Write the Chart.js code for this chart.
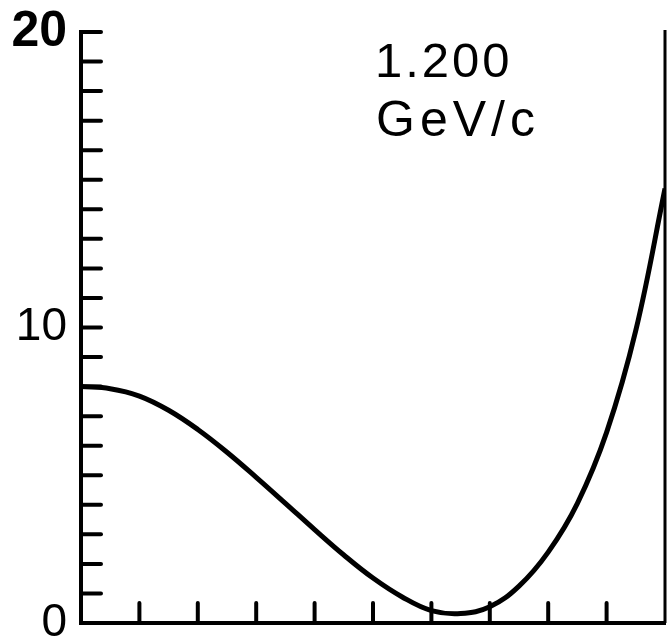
<!DOCTYPE html>
<html><head><meta charset="utf-8">
<script src="https://cdn.jsdelivr.net/npm/chart.js@4.4.1/dist/chart.umd.min.js"></script>
<style>html,body{margin:0;padding:0;background:#fff}#wrap{width:667px;height:636px}</style>
</head><body><div id="wrap"><canvas id="c" width="667" height="636"></canvas></div>
<script>
// Data
const xValues = [0, 0.5, 1, 1.5, 2, 2.5, 3, 3.5, 4, 4.5, 5, 5.5, 6, 6.5, 7, 7.5, 8, 8.5, 9, 9.5, 10];
const yValues = [8.0, 7.93, 7.68, 7.2, 6.55, 5.78, 4.93, 4.05, 3.16, 2.3, 1.52, 0.88, 0.42, 0.32, 0.55, 1.25, 2.4, 4.05, 6.45, 9.9, 14.7];
const yLabelValues = [0, 10, 20];
const annotationLines = ['1.200', 'GeV/c'];

const FONT = '"Liberation Sans", Arial, sans-serif';

const decor = {
  id: 'decor',
  afterDraw(chart) {
    const ctx = chart.ctx;
    const {left, right, top, bottom} = chart.chartArea;
    const xs = chart.scales.x, ys = chart.scales.y;
    ctx.save();
    ctx.strokeStyle = '#000';
    ctx.lineWidth = 4;
    ctx.lineCap = 'round';
    ys.ticks.forEach(t => {
      if (t.value === 0) return;
      const y = ys.getPixelForValue(t.value);
      ctx.beginPath(); ctx.moveTo(left, y); ctx.lineTo(left + 20, y); ctx.stroke();
    });
    xs.ticks.forEach(t => {
      if (t.value === xs.min || t.value === xs.max) return;
      const x = xs.getPixelForValue(t.value);
      ctx.beginPath(); ctx.moveTo(x, bottom); ctx.lineTo(x, bottom - 20); ctx.stroke();
    });
    ctx.lineCap = 'butt';
    ctx.lineWidth = 3;
    ctx.beginPath(); ctx.moveTo(right, top - 2); ctx.lineTo(right, bottom); ctx.stroke();
    ctx.fillStyle = '#000';
    ctx.textBaseline = 'alphabetic';
    ctx.textAlign = 'left';
    ctx.font = '49px ' + FONT;
    ctx.letterSpacing = '3px';
    ctx.fillText(annotationLines[0], 375, 77);
    ctx.font = '50px ' + FONT;
    ctx.letterSpacing = '5px';
    ctx.fillText(annotationLines[1], 376, 136);
    ctx.restore();
  }
};

new Chart(document.getElementById('c'), {
  type: 'line',
  data: {
    datasets: [{
      data: xValues.map((x, i) => ({x, y: yValues[i]})),
      borderColor: '#000',
      borderWidth: 5,
      pointRadius: 0,
      fill: false,
      tension: 0.4
    }]
  },
  options: {
    responsive: false,
    animation: false,
    layout: {padding: {top: 32, right: 2, bottom: 13, left: 0}},
    plugins: {legend: {display: false}, tooltip: {enabled: false}},
    scales: {
      x: {
        type: 'linear', min: 0, max: 10,
        ticks: {display: false, stepSize: 1},
        grid: {display: false, drawTicks: false},
        border: {display: true, color: '#000', width: 4},
        afterFit(s) { s.height = 0; s.paddingLeft = 0; s.paddingRight = 0; }
      },
      y: {
        min: 0, max: 20,
        ticks: {
          stepSize: 1, autoSkip: false, color: '#000', padding: 14,
          callback: v => yLabelValues.includes(v) ? String(v) : '',
          font: ctx => ({family: FONT, size: ctx.tick && ctx.tick.value === 20 ? 50 : 46,
                         weight: ctx.tick && ctx.tick.value === 20 ? 'bold' : 'normal'})
        },
        grid: {display: false, drawTicks: false},
        border: {display: true, color: '#000', width: 4},
        afterFit(s) { s.width = 81; s.paddingTop = 0; s.paddingBottom = 0; }
      }
    }
  },
  plugins: [decor]
});
</script>
</body></html>
